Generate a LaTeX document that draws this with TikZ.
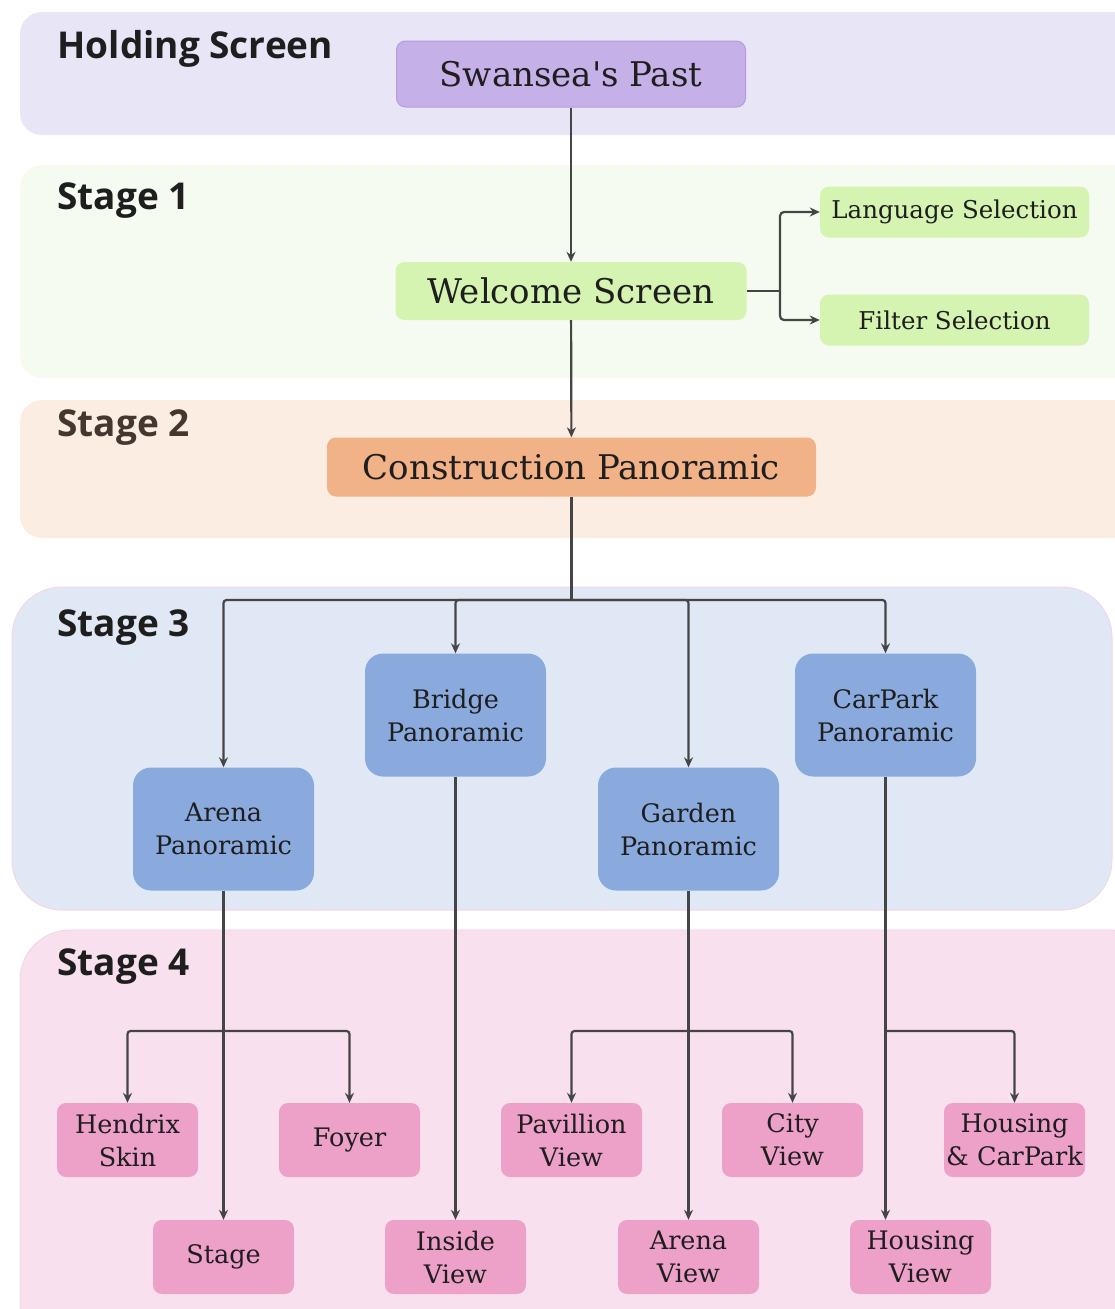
\documentclass[tikz,border=0pt]{standalone}
\usepackage{fontspec}
\setmainfont{DejaVu Serif}[Ligatures=TeXOff]
\newfontfamily\headfont{Open Sans}
\usetikzlibrary{arrows.meta}

\definecolor{bandHold}{HTML}{E8E6F6}
\definecolor{bandOne}{HTML}{F5FBF0}
\definecolor{bandTwo}{HTML}{FCEDE3}
\definecolor{bandThree}{HTML}{E1E8F5}
\definecolor{bandFour}{HTML}{F9E0EE}
\definecolor{bandEdge}{HTML}{F2D6E6}
\definecolor{holdFill}{HTML}{C5B1E7}
\definecolor{holdEdge}{HTML}{B59BE0}
\definecolor{oneFill}{HTML}{D5F3B1}
\definecolor{twoFill}{HTML}{F0B286}
\definecolor{threeFill}{HTML}{8AAADE}
\definecolor{fourFill}{HTML}{EDA1C8}
\definecolor{wire}{HTML}{454545}
\definecolor{ink}{HTML}{1E1E1E}
\definecolor{inkTwo}{HTML}{45362F}

\tikzset{
  band/.style={rounded corners=22pt},
  stagelabel/.style={anchor=west, font=\headfont\bfseries\fontsize{37}{37}\selectfont, text=ink},
  box/.style={rounded corners=9pt, inner sep=0pt, align=center, text=ink},
  holdbox/.style={box, fill=holdFill, draw=holdEdge, line width=1pt, minimum width=349pt, minimum height=66pt, font=\fontsize{34}{34}\selectfont},
  welcomebox/.style={box, fill=oneFill, minimum width=351pt, minimum height=58pt, font=\fontsize{34}{34}\selectfont},
  selbox/.style={box, fill=oneFill, minimum width=269pt, minimum height=51pt, font=\fontsize{24.5}{24.5}\selectfont},
  constbox/.style={box, fill=twoFill, minimum width=489pt, minimum height=59pt, font=\fontsize{34}{34}\selectfont},
  panobox/.style={box, fill=threeFill, rounded corners=18pt, minimum width=181pt, minimum height=123pt, font=\fontsize{25.5}{33}\selectfont},
  leafbox/.style={box, fill=fourFill, minimum width=141pt, minimum height=74pt, font=\fontsize{25.5}{33}\selectfont},
  link/.style={draw=wire, line width=2.2pt, -{Stealth[length=10pt,width=9pt]}},
  wirel/.style={draw=wire, line width=2.2pt},
}

\begin{document}
\begin{tikzpicture}[x=1pt, y=-1pt]
  \useasboundingbox (0,0) rectangle (1115,1309);
  \clip (0,0) rectangle (1115,1309);

  % stage bands
  \fill[bandHold, band] (20,12) rectangle (1150,135);
  \fill[bandOne, band] (20,165) rectangle (1150,378);
  \fill[bandTwo, band] (20,400) rectangle (1150,538);
  \filldraw[fill=bandThree, draw=bandEdge, line width=1pt, rounded corners=50pt] (12,587) rectangle (1112,910);
  \filldraw[fill=bandFour, draw=bandEdge, line width=1pt, rounded corners=50pt] (20,930) rectangle (1160,1360);

  % stage titles
  \node[stagelabel] (tHold) at (54,49) {Holding Screen};
  \node[stagelabel] (tOne) at (54,201) {Stage 1};
  \node[stagelabel, text=inkTwo] (tTwo) at (54,428) {Stage 2};
  \node[stagelabel] (tThree) at (54,628) {Stage 3};
  \node[stagelabel] (tFour) at (54,967) {Stage 4};

  % screens
  \node[holdbox] (past) at (571,74) {Swansea's Past};
  \node[welcomebox] (welcome) at (571,291) {Welcome Screen};
  \node[selbox] (lang) at (954.5,212) {Language Selection};
  \node[selbox] (filter) at (954.5,320) {Filter Selection};
  \node[constbox] (constr) at (571.5,467) {Construction Panoramic};

  \node[panobox] (bridge) at (455.5,715) {Bridge\\Panoramic};
  \node[panobox] (carpark) at (885.5,715) {CarPark\\Panoramic};
  \node[panobox] (arena) at (223.5,829) {Arena\\Panoramic};
  \node[panobox] (garden) at (688.5,829) {Garden\\Panoramic};

  \node[leafbox] (hendrix) at (127.5,1140) {Hendrix\\Skin};
  \node[leafbox] (foyer) at (349.5,1140) {Foyer};
  \node[leafbox] (pavillion) at (571.5,1140) {Pavillion\\View};
  \node[leafbox] (city) at (792.5,1140) {City\\View};
  \node[leafbox] (housecar) at (1014.5,1140) {Housing\\\& CarPark};
  \node[leafbox] (stage) at (223.5,1257) {Stage};
  \node[leafbox] (inside) at (455.5,1257) {Inside\\View};
  \node[leafbox] (arenaview) at (688.5,1257) {Arena\\View};
  \node[leafbox] (housing) at (920.5,1257) {Housing\\View};

  % junction points
  \coordinate (wsplit) at (780,291);
  \coordinate (csplit) at (571.5,600);
  \coordinate (asplit) at (223.5,1031);
  \coordinate (gsplit) at (688.5,1031);
  \coordinate (psplit) at (885.5,1031);

  % connectors
  \draw[link] (past) -- (welcome);
  \draw[link] (welcome) -- (constr);
  \draw[wirel] (welcome.east) -- (wsplit);
  \draw[link, rounded corners=4pt] (wsplit) |- (lang.west);
  \draw[link, rounded corners=4pt] (wsplit) |- (filter.west);

  \draw[wirel] (constr.south) -- (csplit);
  \draw[link, rounded corners=3pt] (csplit) -| (arena.north);
  \draw[link, rounded corners=3pt] (csplit) -| (bridge.north);
  \draw[link, rounded corners=3pt] (csplit) -| (garden.north);
  \draw[link, rounded corners=3pt] (csplit) -| (carpark.north);

  \draw[link] (arena.south) -- (stage.north);
  \draw[link, rounded corners=3pt] (asplit) -| (hendrix.north);
  \draw[link, rounded corners=3pt] (asplit) -| (foyer.north);

  \draw[link] (bridge.south) -- (inside.north);

  \draw[link] (garden.south) -- (arenaview.north);
  \draw[link, rounded corners=3pt] (gsplit) -| (pavillion.north);
  \draw[link, rounded corners=3pt] (gsplit) -| (city.north);

  \draw[link] (carpark.south) -- (carpark.south |- housing.north);
  \draw[link, rounded corners=3pt] (psplit) -| (housecar.north);
\end{tikzpicture}
\end{document}
